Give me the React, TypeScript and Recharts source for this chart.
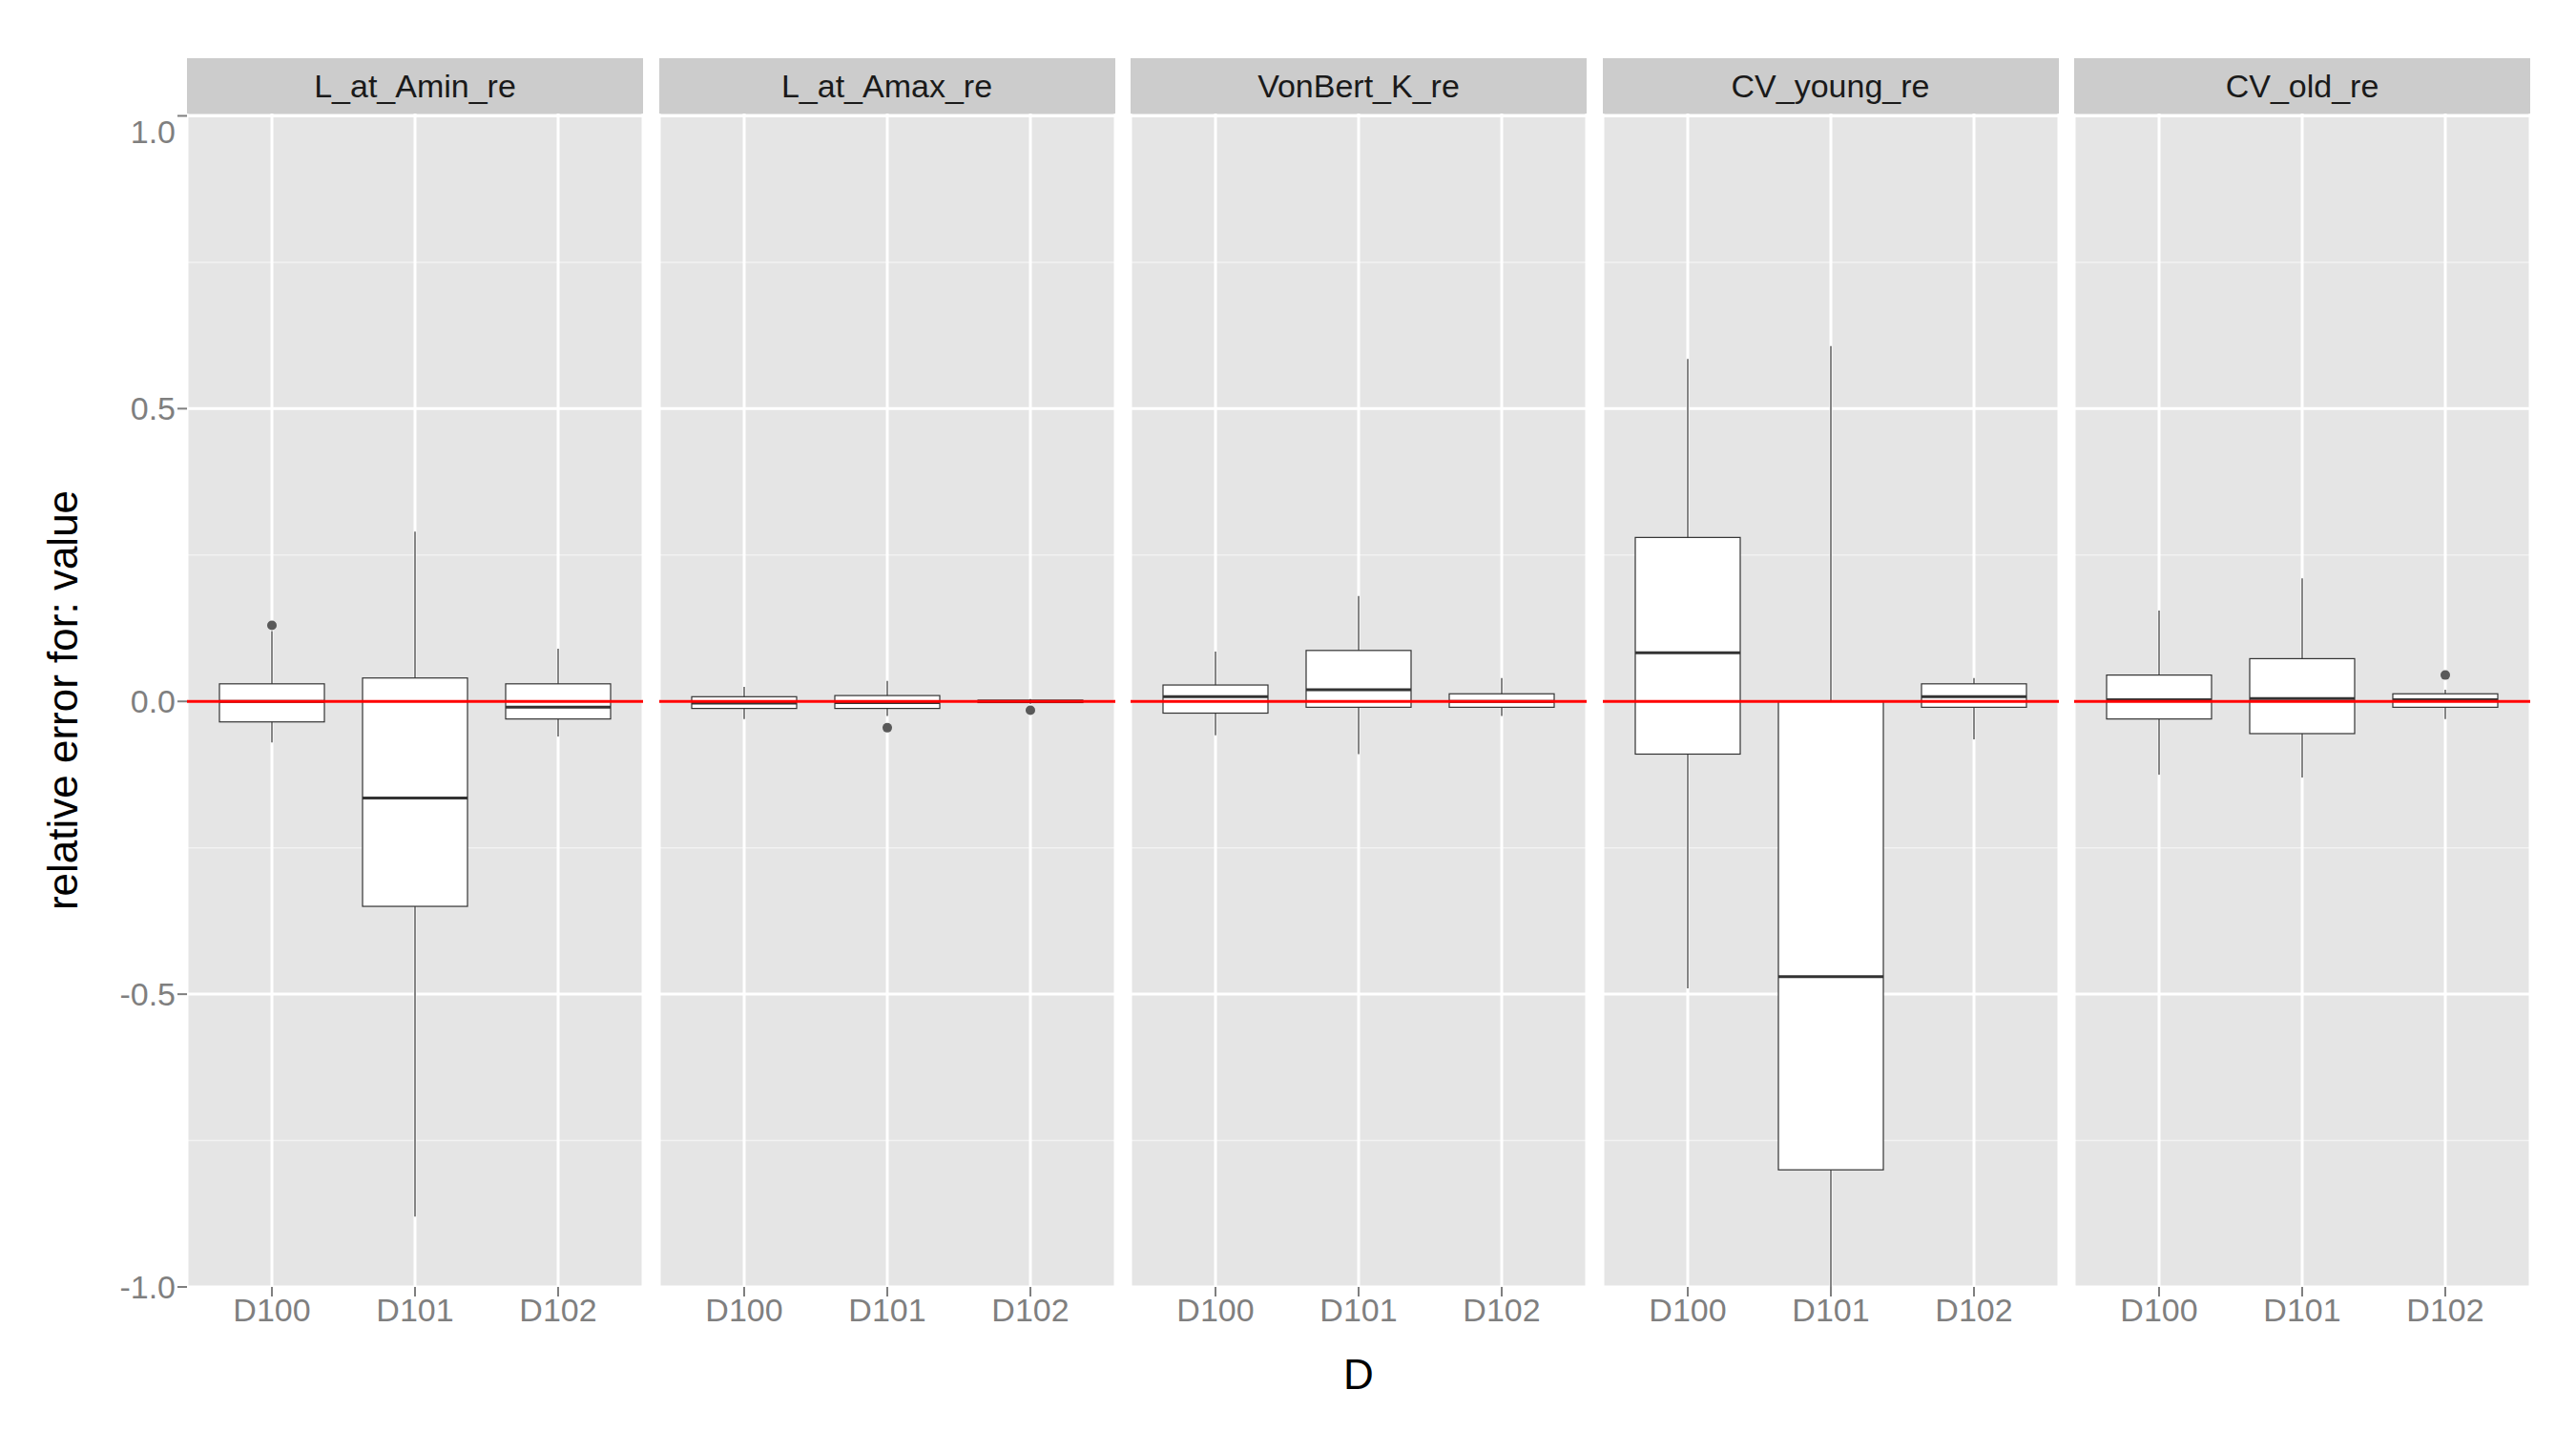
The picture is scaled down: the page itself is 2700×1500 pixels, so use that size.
import React from 'react';
import { ComposedChart, Bar, XAxis, YAxis, ReferenceLine, CartesianGrid } from 'recharts';

const panels = ['L_at_Amin_re', 'L_at_Amax_re', 'VonBert_K_re', 'CV_young_re', 'CV_old_re'];
const groups = ['D100', 'D101', 'D102'];

// per panel, per group: [whisker low, q1, median, q3, whisker high]
const stats: number[][][] = [
  [[-0.07, -0.035, 0.0, 0.03, 0.12], [-0.88, -0.35, -0.165, 0.04, 0.29], [-0.06, -0.03, -0.01, 0.03, 0.09]],
  [[-0.03, -0.012, -0.003, 0.008, 0.025], [-0.025, -0.012, -0.002, 0.01, 0.035], [-0.004, -0.002, 0.0, 0.002, 0.004]],
  [[-0.058, -0.02, 0.008, 0.028, 0.085], [-0.09, -0.01, 0.02, 0.087, 0.18], [-0.025, -0.01, 0.0, 0.013, 0.04]],
  [[-0.49, -0.09, 0.083, 0.28, 0.585], [-1.0, -0.8, -0.47, 0.0, 0.607], [-0.065, -0.01, 0.008, 0.03, 0.04]],
  [[-0.125, -0.03, 0.003, 0.045, 0.155], [-0.13, -0.055, 0.005, 0.073, 0.21], [-0.03, -0.01, 0.003, 0.013, 0.02]],
];
const outliers: number[][][] = [
  [[0.13], [], []],
  [[], [-0.045], [-0.015]],
  [[], [], []],
  [[], [], []],
  [[], [], [0.045]],
];

const majorY = [-1, -0.5, 0, 0.5, 1];
const minorY = [-0.75, -0.25, 0.25, 0.75];

const FONT = '"Liberation Sans", Arial, sans-serif';
const PLOT_H = 1230;
const AXIS_H = 70;
const PANEL_W = 478;
const Y_W = 90;

const BoxShape = (p: any) => {
  const { x, y, width, height, payload } = p;
  const top = Math.min(y, y + height);
  const h = Math.abs(height);
  const span = payload.hi - payload.lo || 1;
  const py = (v: number) => top + ((payload.hi - v) / span) * h;
  const cx = x + width / 2;
  return (
    <g>
      <line x1={cx} x2={cx} y1={py(payload.w1)} y2={py(payload.w0)} stroke="#333333" strokeWidth={1.2} />
      <rect x={x} y={py(payload.q3)} width={width} height={Math.max(py(payload.q1) - py(payload.q3), 0.5)}
        fill="#ffffff" stroke="#333333" strokeWidth={1.2} />
      <line x1={x} x2={x + width} y1={py(payload.med)} y2={py(payload.med)} stroke="#333333" strokeWidth={3} />
      {payload.out.map((o: number, i: number) => (
        <circle key={i} cx={cx} cy={py(o)} r={5} fill="#595959" />
      ))}
    </g>
  );
};

function Panel({ idx }: { idx: number }) {
  const first = idx === 0;
  const data = groups.map((g, j) => {
    const [w0, q1, med, q3, w1] = stats[idx][j];
    const out = outliers[idx][j];
    return { g, w0, q1, med, q3, w1, out, lo: Math.min(w0, ...out), hi: Math.max(w1, ...out) };
  });
  const yw = first ? Y_W : 0;
  return (
    <div style={{ position: 'absolute', left: 196 + idx * 494.5 - yw, top: 61 }}>
      <div style={{ marginLeft: yw, width: PANEL_W, height: 58, background: '#CCCCCC', color: '#1A1A1A',
        fontSize: 34, lineHeight: '58px', textAlign: 'center', fontFamily: FONT }}>{panels[idx]}</div>
      <ComposedChart width={PANEL_W + yw} height={PLOT_H + AXIS_H} data={data}
        margin={{ top: 0, right: 0, left: 0, bottom: 0 }}>
        <CartesianGrid fill="#E5E5E5" horizontalValues={minorY} vertical={false} stroke="#F2F2F2" strokeWidth={1.5} />
        <CartesianGrid horizontalValues={majorY} stroke="#FFFFFF" strokeWidth={3} />
        <XAxis dataKey="g" type="category" height={AXIS_H} padding={{ left: 14, right: 14 }}
          axisLine={false} tickLine={{ stroke: '#7F7F7F', strokeWidth: 2 }} tickSize={10}
          tick={{ fill: '#7F7F7F', fontSize: 34, fontFamily: FONT }} />
        <YAxis type="number" domain={[-1, 1.004]} allowDataOverflow ticks={majorY} hide={!first} width={Y_W}
          axisLine={false} tickLine={{ stroke: '#7F7F7F', strokeWidth: 2 }} tickSize={10}
          tickFormatter={(v: number) => v.toFixed(1)}
          tick={{ fill: '#7F7F7F', fontSize: 34, fontFamily: FONT }} />
        <Bar dataKey={(d: any) => [d.lo, d.hi]} barSize={110} shape={BoxShape} isAnimationActive={false} />
        <ReferenceLine y={0} stroke="#FF0000" strokeWidth={3} />
      </ComposedChart>
    </div>
  );
}

export default function App() {
  return (
    <div style={{ position: 'absolute', left: 0, top: 0, width: 2700, height: 1500, background: '#ffffff', fontFamily: FONT }}>
      {panels.map((_, i) => <Panel key={i} idx={i} />)}
      <div style={{ position: 'absolute', left: 1424 - 50, width: 100, top: 1416, textAlign: 'center', fontSize: 44, color: '#000' }}>D</div>
      <div style={{ position: 'absolute', left: 66, top: 734, transform: 'translate(-50%, -50%) rotate(-90deg)',
        whiteSpace: 'nowrap', fontSize: 44, color: '#000' }}>relative error for: value</div>
    </div>
  );
}
